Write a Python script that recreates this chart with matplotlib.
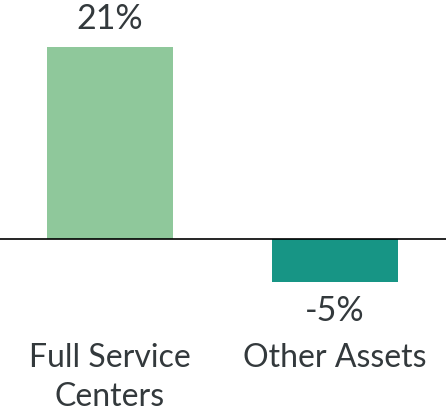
import matplotlib
matplotlib.use("Agg")
import matplotlib.pyplot as plt
import matplotlib.transforms as mtransforms

# data
categories = ["Full Service\nCenters", "Other Assets"]
values = [21.0, -4.7]
colors = ["#8fc89b", "#179585"]

plt.rcParams['font.family'] = ['Lato', 'DejaVu Sans']
text_color = "#33393c"

fig = plt.figure(figsize=(4.46, 4.15), dpi=100)
ax = fig.add_axes([0, 0, 1, 1])

x = range(len(categories))
bars = ax.bar(x, values, width=0.56, color=colors, zorder=2)

ax.axhline(0, color="black", lw=1.2, zorder=3)

# value labels above / below the bars
for b, v in zip(bars, values):
    off = 20 if v >= 0 else -21
    ax.annotate("{:.0f}%".format(v), (b.get_x() + b.get_width() / 2, v),
                xytext=(0, off), textcoords="offset points",
                ha="center", va="center", fontsize=24.5, color=text_color)

# category labels at the bottom
trans = mtransforms.blended_transform_factory(ax.transData, ax.transAxes)
for i, cat in enumerate(categories):
    ax.text(i, 1 - 343 / 415, cat, transform=trans, ha="center", va="top",
            fontsize=23, color=text_color, linespacing=1.38)

ax.set_xlim(-0.489, 1.493)
ax.set_ylim(-19.25, 26.14)
ax.axis("off")

fig.savefig("out.png", dpi=100)
